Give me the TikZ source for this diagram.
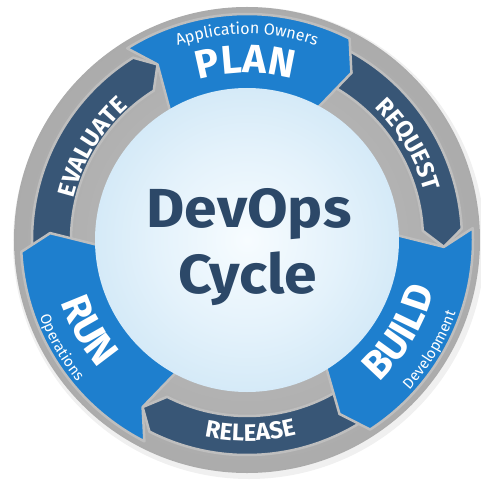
\documentclass[tikz,border=0pt]{standalone}
\usepackage{fontspec}
\setmainfont{Fira Sans}
\usetikzlibrary{decorations.text}

\definecolor{gapgray}{HTML}{BEBEBE}
\definecolor{corenavy}{HTML}{2C4868}
\definecolor{blueA}{HTML}{1E7FCE}
\definecolor{blueB}{HTML}{1774C3}
\definecolor{blueC}{HTML}{0F62AC}
\definecolor{blueD}{HTML}{0A5296}
\definecolor{darkA}{HTML}{385676}
\definecolor{darkB}{HTML}{2F4B6A}
\definecolor{darkC}{HTML}{243B56}
\definecolor{coreA}{HTML}{F7FCFF}
\definecolor{coreB}{HTML}{E4F2FB}
\definecolor{coreC}{HTML}{C6E2F4}
\definecolor{coreD}{HTML}{AED3EE}
\definecolor{coreE}{HTML}{96BFE0}

\pgfdeclareradialshading{ringshade}{\pgfpoint{0bp}{0bp}}{%
  color(0bp)=(gray!50); color(32bp)=(gray!70); color(33.5bp)=(gray!45);
  color(36bp)=(gray!28); color(38.5bp)=(gray!50); color(45.5bp)=(gray!45);
  color(47.5bp)=(gray!70); color(50bp)=(gray!92)}
\pgfdeclareradialshading{blueshade}{\pgfpoint{0bp}{0bp}}{%
  color(0bp)=(blueA); color(32bp)=(blueA); color(38bp)=(blueB);
  color(44bp)=(blueC); color(48.5bp)=(blueD); color(50bp)=(blueD)}
\pgfdeclareradialshading{darkshade}{\pgfpoint{0bp}{0bp}}{%
  color(0bp)=(darkA); color(37.8bp)=(darkA); color(42bp)=(darkB);
  color(46bp)=(darkC); color(50bp)=(darkC)}
\pgfdeclareradialshading{coreshade}{\pgfpoint{0bp}{0bp}}{%
  color(0bp)=(coreA); color(15bp)=(coreB); color(35bp)=(coreC);
  color(45bp)=(coreD); color(50bp)=(coreE)}

\begin{document}
\begin{tikzpicture}[
    x=1pt,y=1pt,
    seg/.style={draw=gapgray,line width=2.5pt,line join=round},
    blueseg/.style={seg,path picture={\shade[shading=blueshade] (0,0) circle (233);}},
    darkseg/.style={seg,path picture={\shade[shading=darkshade] (0,0) circle (233);}},
    bandtext/.style={decorate,decoration={text along path,text align=center,text color=white}},
    core/.style={text=corenavy,font=\fontsize{55}{55}\selectfont\bfseries,xscale=1.07,transform shape},
]
    \useasboundingbox (-247,-239) rectangle (234,240);

    %ring
    \fill[gray!12] (2,-3) circle (236);
    \shade[shading=ringshade] (0,0) circle (233);

    %dark segments
    \path[darkseg] (63:215) arc[start angle=63,end angle=3,radius=215] -- (-2:197)
        -- (3:176) arc[start angle=3,end angle=63,radius=176] -- (58:197) -- cycle;
    \path[darkseg] (-57:215) arc[start angle=-57,end angle=-117,radius=215] -- (-122:197)
        -- (-117:176) arc[start angle=-117,end angle=-57,radius=176] -- (-62:197) -- cycle;
    \path[darkseg] (183:215) arc[start angle=183,end angle=122,radius=215] -- (117:197)
        -- (122:176) arc[start angle=122,end angle=183,radius=176] -- (178:197) -- cycle;

    %blue segments
    \path[blueseg] (122:226) arc[start angle=122,end angle=63,radius=226] -- (58:197)
        -- (63:140) arc[start angle=63,end angle=122,radius=140] -- (117:197) -- cycle;
    \path[blueseg] (3:226) arc[start angle=3,end angle=-57,radius=226] -- (-62:197)
        -- (-57:140) arc[start angle=-57,end angle=3,radius=140] -- (-2:197) -- cycle;
    \path[blueseg] (-117:226) arc[start angle=-117,end angle=-177,radius=226] -- (-182:197)
        -- (-177:140) arc[start angle=-177,end angle=-117,radius=140] -- (-122:197) -- cycle;

    %core
    \shade[shading=coreshade] (0,0) circle (152);
    \node[core,anchor=base] (dev) at (2,13) {DevOps};
    \node[core,anchor=base] (cycle) at (1,-53) {Cycle};

    %labels
    \path[bandtext,decoration={text={|\fontsize{40}{40}\selectfont\bfseries|PLAN}}]
        (130.5:167) arc[start angle=130.5,end angle=50.5,radius=167];
    \path[bandtext,decoration={text={|\fontsize{16}{16}\selectfont|Application Owners}}]
        (140:206) arc[start angle=140,end angle=40,radius=206];
    \path[bandtext,decoration={text={|\fontsize{24}{24}\selectfont\bfseries|REQUEST}}]
        (70.7:184) arc[start angle=70.7,end angle=-9.3,radius=184];
    \path[bandtext,decoration={text={|\fontsize{40}{40}\selectfont\bfseries|BUILD}}]
        (-71:194) arc[start angle=-71,end angle=9,radius=194];
    \path[bandtext,decoration={text={|\fontsize{15}{15}\selectfont|Development}}]
        (-71:221) arc[start angle=-71,end angle=9,radius=221];
    \path[bandtext,decoration={text={|\fontsize{24}{24}\selectfont\bfseries|RELEASE}}]
        (-129:201) arc[start angle=-129,end angle=-49,radius=201];
    \path[bandtext,decoration={text={|\fontsize{40}{40}\selectfont\bfseries|RUN}}]
        (169.8:196) arc[start angle=169.8,end angle=249.8,radius=196];
    \path[bandtext,decoration={text={|\fontsize{15}{15}\selectfont|Operations}}]
        (170:221) arc[start angle=170,end angle=250,radius=221];
    \path[bandtext,decoration={text={|\fontsize{24}{24}\selectfont\bfseries|EVALUATE}}]
        (189:178) arc[start angle=189,end angle=109,radius=178];
\end{tikzpicture}
\end{document}
